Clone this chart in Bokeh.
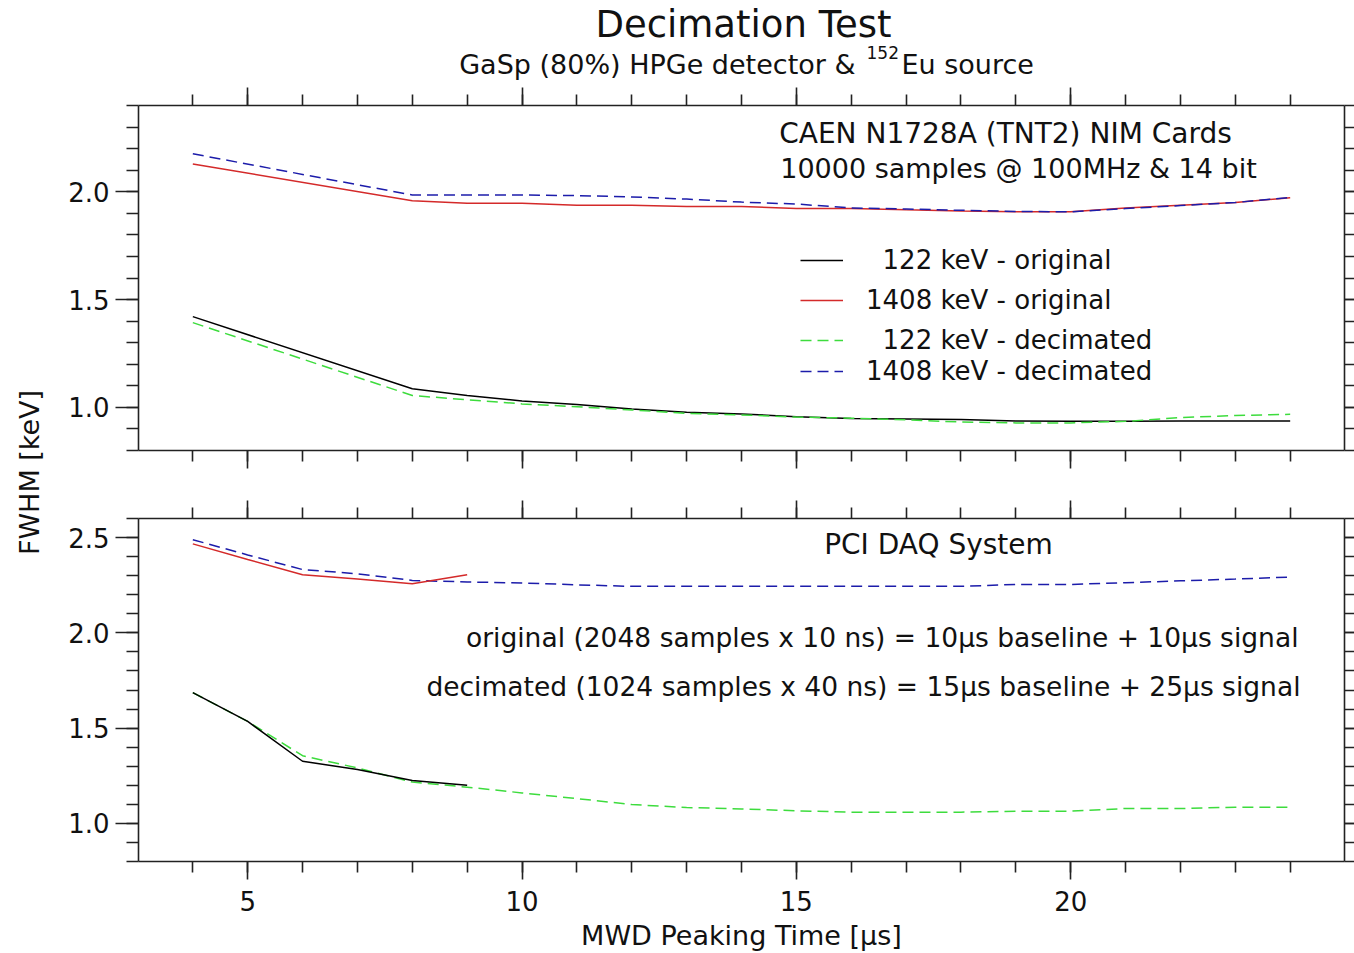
import math
from bokeh.plotting import figure
from bokeh.models import (Range1d, LinearAxis, SingleIntervalTicker, Label, Legend,
                          LegendItem, CustomJSTickFormatter, PrintfTickFormatter)
from bokeh.layouts import row, column
from bokeh.embed import file_html
from bokeh.resources import INLINE

# ---------------- data ----------------
# Top panel: CAEN N1728A (TNT2) NIM cards
top_peaking_us = [4, 8, 9, 10, 11, 12, 13, 14, 15, 16, 17, 18, 19, 20, 21, 22, 23, 24]
top_122_original = [1.421, 1.086, 1.055, 1.030, 1.013, 0.992, 0.977, 0.969, 0.957, 0.948,
                    0.946, 0.944, 0.937, 0.935, 0.935, 0.937, 0.937, 0.937]
top_1408_original = [2.129, 1.958, 1.947, 1.947, 1.938, 1.938, 1.932, 1.932, 1.922, 1.922,
                     1.916, 1.911, 1.907, 1.907, 1.925, 1.938, 1.950, 1.972]
top_122_decimated = [1.393, 1.055, 1.035, 1.016, 1.003, 0.988, 0.972, 0.965, 0.955, 0.950,
                     0.942, 0.932, 0.928, 0.928, 0.935, 0.953, 0.962, 0.968]
top_1408_decimated = [2.176, 1.985, 1.985, 1.985, 1.982, 1.976, 1.966, 1.952, 1.943, 1.925,
                      1.920, 1.914, 1.909, 1.907, 1.922, 1.936, 1.950, 1.974]

# Bottom panel: PCI DAQ system
bot_peaking_original_us = [4, 5, 6, 7, 8, 9]
bot_122_original = [1.686, 1.535, 1.326, 1.283, 1.225, 1.200]
bot_1408_original = [2.467, 2.385, 2.305, 2.283, 2.258, 2.305]
bot_peaking_decimated_us = [4, 5, 6, 7, 8, 9, 10, 11, 12, 13, 14, 15, 16, 17, 18, 19, 20, 21, 22, 23, 24]
bot_122_decimated = [1.686, 1.535, 1.355, 1.291, 1.217, 1.190, 1.160, 1.130, 1.099, 1.083, 1.076,
                     1.066, 1.059, 1.059, 1.059, 1.064, 1.064, 1.078, 1.078, 1.085, 1.085]
bot_1408_decimated = [2.489, 2.409, 2.332, 2.310, 2.275, 2.267, 2.262, 2.252, 2.244, 2.244, 2.244,
                      2.244, 2.244, 2.244, 2.244, 2.254, 2.254, 2.263, 2.273, 2.282, 2.293]

legend_labels = ["\u2007122 keV - original", "1408 keV - original",
                 "\u2007122 keV - decimated", "1408 keV - decimated"]

FONT = "DejaVu Sans"
TXT = "#111111"
C_BLACK = "#000000"
C_RED = "#d42a2a"
C_GREEN = "#3ddc3d"
C_BLUE = "#1c1caa"
DASH = "11 6"


def style_axis(ax, major_out, minor_out, labels, fmt=None):
    ax.axis_line_color = "#222222"
    ax.axis_line_width = 1.6
    ax.major_tick_line_color = "#222222"
    ax.minor_tick_line_color = "#222222"
    ax.major_tick_line_width = 1.6
    ax.minor_tick_line_width = 1.6
    ax.major_tick_in = 0
    ax.minor_tick_in = 0
    ax.major_tick_out = major_out
    ax.minor_tick_out = minor_out
    if labels:
        ax.major_label_text_font = FONT
        ax.major_label_text_font_size = "26px"
        ax.major_label_text_color = TXT
        ax.major_label_standoff = 6
        if fmt is not None:
            ax.formatter = fmt
    else:
        ax.formatter = CustomJSTickFormatter(code="return '';")
        ax.major_label_text_font_size = "0px"
        ax.major_label_standoff = 0


def bare(width, height):
    f = figure(width=width, height=height, x_range=Range1d(0, 1), y_range=Range1d(0, 1),
               output_backend="svg", toolbar_location=None,
               x_axis_location=None, y_axis_location=None, min_border=0)
    f.grid.visible = False
    f.outline_line_color = None
    return f


def make_panel(height, ylo, yhi, top_border, bottom_border, xlabels):
    p = figure(width=1294, height=height, x_range=Range1d(3.01, 24.99), y_range=Range1d(ylo, yhi),
               output_backend="svg", toolbar_location=None,
               x_axis_location=None, y_axis_location=None,
               min_border_left=78, min_border_right=8,
               min_border_top=top_border, min_border_bottom=bottom_border)
    p.grid.visible = False
    p.outline_line_color = None

    def xt():
        return SingleIntervalTicker(interval=5, num_minor_ticks=5)

    def yt():
        return SingleIntervalTicker(interval=0.5, num_minor_ticks=5)

    left = LinearAxis(ticker=yt())
    style_axis(left, 23, 12, True, PrintfTickFormatter(format="%.1f"))
    p.add_layout(left, "left")
    right = LinearAxis(ticker=yt())
    style_axis(right, 10, 10, False)
    p.add_layout(right, "right")
    above = LinearAxis(ticker=xt())
    style_axis(above, 18, 11, False)
    p.add_layout(above, "above")
    below = LinearAxis(ticker=xt())
    style_axis(below, 18, 11, xlabels)
    if xlabels:
        below.major_label_standoff = 11
        below.axis_label = "MWD Peaking Time [µs]"
        below.axis_label_text_font = FONT
        below.axis_label_text_font_size = "27px"
        below.axis_label_text_font_style = "normal"
        below.axis_label_text_color = TXT
        below.axis_label_standoff = 6
    p.add_layout(below, "below")
    return p


def label(p, x, y, text, size, align="left", angle=0.0):
    p.add_layout(Label(x=x, y=y, x_units="screen", y_units="screen", text=text,
                       text_font=FONT, text_font_size=size, text_color=TXT,
                       text_align=align, text_baseline="alphabetic", angle=angle))


def make_legend(items, y):
    return Legend(items=items, location=(662, y), orientation="vertical",
                  border_line_color=None, background_fill_alpha=0,
                  padding=0, margin=0, spacing=10, label_height=30, glyph_height=30,
                  glyph_width=43, label_standoff=23,
                  label_text_font=FONT, label_text_font_size="26px", label_text_color=TXT)


# ---------------- title strip (frame aligned with panels: left edge at page x=138) ----------------
pt = bare(1294, 84)
label(pt, 605, 60, "Decimation Test", "37px", "center")
label(pt, 717, 20, "GaSp (80%) HPGe detector &", "27px", "right")
label(pt, 728, 32, "152", "17px", "left")
label(pt, 763, 20, "Eu source", "27px", "left")

# ---------------- top panel ----------------
p1 = make_panel(400, 0.7999, 2.4001, 21, 34, False)
r_b = p1.line(top_peaking_us, top_122_original, line_color=C_BLACK, line_width=1.5)
r_r = p1.line(top_peaking_us, top_1408_original, line_color=C_RED, line_width=1.5)
r_g = p1.line(top_peaking_us, top_122_decimated, line_color=C_GREEN, line_width=1.5, line_dash=DASH)
r_u = p1.line(top_peaking_us, top_1408_decimated, line_color=C_BLUE, line_width=1.5, line_dash=DASH)

p1.add_layout(make_legend([LegendItem(label=legend_labels[0], renderers=[r_b]),
                           LegendItem(label=legend_labels[1], renderers=[r_r]),
                           LegendItem(label=legend_labels[2], renderers=[r_g])], 95))
p1.add_layout(make_legend([LegendItem(label=legend_labels[3], renderers=[r_u])], 64))

label(p1, 867, 317, "CAEN N1728A (TNT2) NIM Cards", "28px", "center")
label(p1, 880, 282, "10000 samples @ 100MHz & 14 bit", "27px", "center")

# ---------------- bottom panel ----------------
p2 = make_panel(469, 0.7999, 2.6001, 34, 90, True)
p2.line(bot_peaking_decimated_us, bot_122_decimated, line_color=C_GREEN, line_width=1.5, line_dash=DASH)
p2.line(bot_peaking_decimated_us, bot_1408_decimated, line_color=C_BLUE, line_width=1.5, line_dash=DASH)
p2.line(bot_peaking_original_us, bot_122_original, line_color=C_BLACK, line_width=1.5)
p2.line(bot_peaking_original_us, bot_1408_original, line_color=C_RED, line_width=1.5)

label(p2, 800, 317, "PCI DAQ System", "28px", "center")
label(p2, 1160, 224, "original (2048 samples x 10 ns) = 10µs baseline + 10µs signal", "26.5px", "right")
label(p2, 1162, 175, "decimated (1024 samples x 40 ns) = 15µs baseline + 25µs signal", "26.5px", "right")

# ---------------- y label strip ----------------
pl = bare(60, 953)
label(pl, 29, 481, "FWHM [keV]", "27px", "center", math.pi / 2)

layout = row(pl, column(pt, p1, p2, spacing=0), spacing=0)

open("out.html", "w").write(file_html(layout, INLINE))
